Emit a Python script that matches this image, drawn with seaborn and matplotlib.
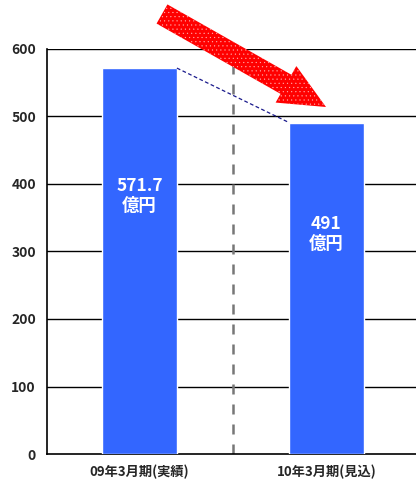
import matplotlib
matplotlib.use('Agg')
import pandas as pd
import seaborn as sns
import matplotlib.pyplot as plt
from matplotlib.patches import FancyArrow
from matplotlib.transforms import IdentityTransform

# データ
periods = ['09年3月期(実績)', '10年3月期(見込)']
values = [571.7, 491]
labels = ['571.7\n億円', '491\n億円']
label_y = [382, 326]
yticks = [0, 100, 200, 300, 400, 500, 600]

df = pd.DataFrame({'period': periods, 'value': values})

sns.set_style('white')
plt.rcParams['font.family'] = ['Noto Sans CJK JP', 'DejaVu Sans']

fig = plt.figure(figsize=(4.16, 4.86), dpi=100)
ax = fig.add_axes([47/416, 32/486, 1 - 47/416, 405/486])

sns.barplot(data=df, x='period', y='value', color='#3366FF', saturation=1,
            width=0.4, ax=ax, zorder=3)

ax.set_ylim(0, 600)
ax.set_xlim(-0.495, 1.479)
ax.set_yticks(yticks)
ax.set_yticklabels([str(t) for t in yticks], fontsize=10, fontweight='bold')
ax.set_xticks([0, 1])
ax.set_xticklabels(periods, fontsize=9.5, fontweight='bold')
ax.tick_params(length=0, pad=8)
ax.set_xlabel('')
ax.set_ylabel('')

# 目盛線
for t in yticks[1:]:
    ax.axhline(t, color='black', lw=1, zorder=1)
for s in ['top', 'right']:
    ax.spines[s].set_visible(False)
for s in ['left', 'bottom']:
    ax.spines[s].set_color('black')
    ax.spines[s].set_linewidth(1.2)

# 区切り線
ax.plot([0.5, 0.5], [0, 578], color='#777777', lw=1.8, ls=(0, (4, 4)), zorder=2)
# 連結線
ax.plot([0.2, 0.8], [values[0], values[1]], color='#1a1a8c', lw=0.9,
        ls=(0, (3, 2)), zorder=4)

# 棒内ラベル
for i, (txt, y) in enumerate(zip(labels, label_y)):
    ax.text(i, y, txt, color='white', ha='center', va='center', fontsize=12.5,
            fontweight='bold', linespacing=1.15, zorder=5)

# 赤い矢印 (pixels)
tail = (162, 486 - 14)
tip = (326, 486 - 107)
dx, dy = tip[0] - tail[0], tip[1] - tail[1]
arrow_kw = dict(width=22, head_width=42, head_length=46,
                length_includes_head=True, transform=IdentityTransform())
fig.patches.append(FancyArrow(tail[0], tail[1], dx, dy, facecolor='#FF0000',
                              edgecolor='none', **arrow_kw))
plt.rcParams['hatch.linewidth'] = 0.3
fig.patches.append(FancyArrow(tail[0], tail[1], dx, dy, facecolor='none',
                              edgecolor='#ffb0b0', lw=0, hatch='....', **arrow_kw))

fig.savefig('out.png', dpi=100)
